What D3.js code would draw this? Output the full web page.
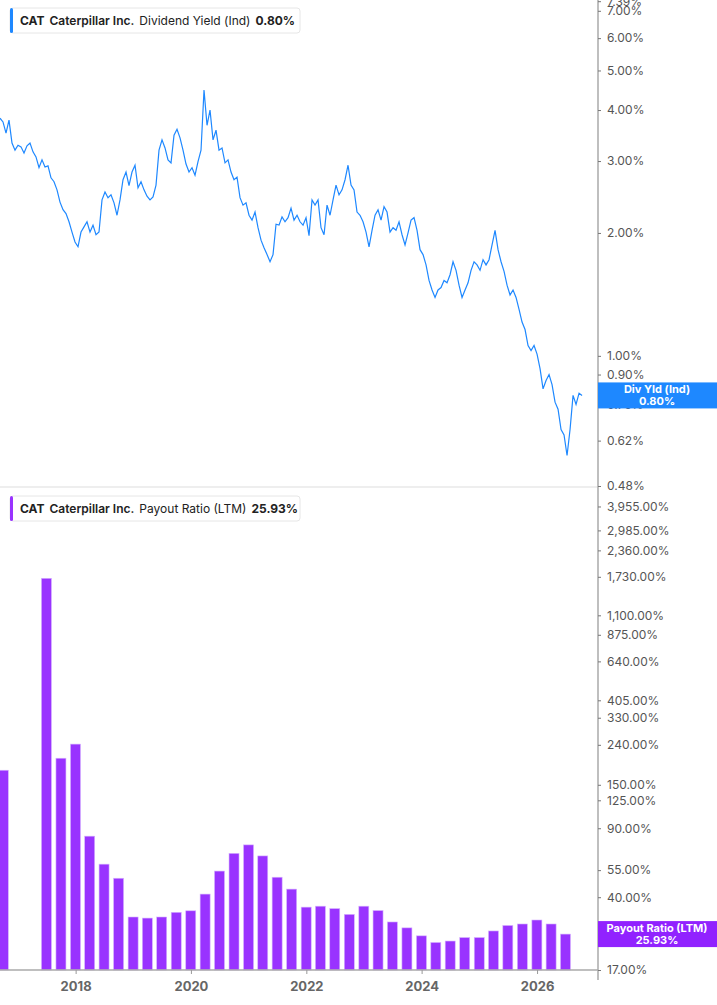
<!DOCTYPE html>
<html><head><meta charset="utf-8">
<script src="https://cdn.jsdelivr.net/npm/d3@7"></script>
<style>body{margin:0;background:#fff;font-family:Inter,"Noto Sans",sans-serif}</style>
</head><body><svg id="c" width="717" height="1005"></svg>
<script>
// Dividend yield (%) sampled every 19 days from start date
const yieldStart = "2016-09-09";
const yieldStepDays = 19;
const yieldValues = [3.82,3.74,3.51,3.78,3.32,3.19,3.28,3.25,3.14,3.27,3.32,3.16,3.07,2.89,3.02,2.90,2.92,2.73,2.67,2.55,2.38,2.28,2.23,2.13,2.01,1.90,1.85,2.01,2.07,2.13,2.01,2.09,1.98,2.01,2.41,2.52,2.44,2.48,2.37,2.21,2.41,2.70,2.82,2.61,2.82,2.93,2.58,2.67,2.55,2.46,2.41,2.45,2.62,3.19,3.38,3.23,3.02,2.97,3.47,3.59,3.42,3.19,2.95,2.82,2.89,2.77,2.99,3.19,4.48,3.67,4.00,3.38,3.57,3.19,3.23,2.97,3.02,2.82,2.70,2.74,2.44,2.34,2.37,2.21,2.15,2.25,2.06,1.92,1.84,1.77,1.70,1.77,2.10,2.09,2.19,2.13,2.18,2.30,2.15,2.21,2.13,2.09,2.18,1.97,2.41,2.34,2.41,2.06,1.98,2.34,2.21,2.41,2.62,2.48,2.55,2.70,2.93,2.62,2.55,2.25,2.21,2.13,2.01,1.85,2.03,2.21,2.28,2.15,2.32,2.25,2.01,2.06,2.03,2.13,1.98,1.87,2.00,2.15,2.18,2.03,1.82,1.77,1.67,1.53,1.45,1.39,1.45,1.47,1.53,1.51,1.58,1.70,1.62,1.49,1.39,1.45,1.51,1.62,1.70,1.67,1.62,1.72,1.67,1.72,1.87,2.03,1.82,1.70,1.61,1.49,1.41,1.45,1.39,1.30,1.21,1.16,1.06,1.03,1.06,1.01,0.93,0.83,0.87,0.90,0.85,0.77,0.74,0.66,0.64,0.57,0.66,0.80,0.76,0.81,0.80];
// Payout ratio (%), quarter ends
const payoutDates = ["2016-09-30","2016-12-31","2017-03-31","2017-06-30","2017-09-30","2017-12-31","2018-03-31","2018-06-30","2018-09-30","2018-12-31","2019-03-31","2019-06-30","2019-09-30","2019-12-31","2020-03-31","2020-06-30","2020-09-30","2020-12-31","2021-03-31","2021-06-30","2021-09-30","2021-12-31","2022-03-31","2022-06-30","2022-09-30","2022-12-31","2023-03-31","2023-06-30","2023-09-30","2023-12-31","2024-03-31","2024-06-30","2024-09-30","2024-12-31","2025-03-31","2025-06-30","2025-09-30","2025-12-31","2026-03-31","2026-06-30"];
const payoutValues = [178,null,null,1700,205,242,82,59,50,31.7,31.3,31.7,33.5,34.1,41.5,54.4,67,74,65,50.6,44,35.6,36,35,32.7,36,34.2,29.9,27.9,25.4,23.5,23.9,24.9,24.9,26.9,28.7,29.2,30.6,29.2,25.93];
const yieldTicks = [7.39,7,6,5,4,3,2,1,0.9,0.76,0.62,0.48];
const payoutTicks = [3955,2985,2360,1730,1100,875,640,405,330,240,150,125,90,55,40,25,17];
const yearTicks = [2018,2020,2022,2024,2026];

const svg = d3.select("#c");
const pt = d3.timeParse("%Y-%m-%d");
const t0 = pt(yieldStart);
const W = 598;
const x = d3.scaleTime().domain([t0, d3.timeDay.offset(t0, 3787)]).range([0, W]);
const yTop = d3.scaleLog().domain([0.48, 7.44]).range([486, 0]);
const yBot = d3.scaleLog().domain([17, 4800]).range([970, 490]);
const BLUE = "#1e88ff", PURP = "#9933ff";

const yd = yieldValues.map((v,i)=>({d:d3.timeDay.offset(t0,i*yieldStepDays),v}));
svg.append("path").datum(yd).attr("fill","none").attr("stroke",BLUE).attr("stroke-width",1.2)
  .attr("d", d3.line().x(d=>x(d.d)).y(d=>yTop(d.v)));

const bd = payoutDates.map((d,i)=>({d:pt(d),v:payoutValues[i]})).filter(d=>d.v!=null);
svg.append("g").selectAll("rect").data(bd).join("rect")
  .attr("x", d=>x(d.d)-5).attr("width",10)
  .attr("y", d=>yBot(d.v)).attr("height", d=>970-yBot(d.v))
  .attr("fill",PURP).attr("stroke","#d6b3ff").attr("stroke-width",0.6);

svg.append("line").attr("x1",0).attr("x2",W).attr("y1",487).attr("y2",487).attr("stroke","#ddd");
svg.append("line").attr("x1",0).attr("x2",W).attr("y1",970).attr("y2",970).attr("stroke","#aaa").attr("stroke-width",1.5);
svg.append("line").attr("x1",W).attr("x2",W).attr("y1",0).attr("y2",980).attr("stroke","#aaa").attr("stroke-width",1.5);

function rightAxis(scale, ticks, fmt){
  const g = svg.append("g").attr("transform",`translate(${W},0)`)
    .call(d3.axisRight(scale).tickValues(ticks).tickSize(3).tickPadding(6).tickFormat(fmt));
  g.select(".domain").remove();
  g.selectAll("line").attr("stroke","#777");
  g.selectAll("text").attr("fill","#555").style("font-size","12px").style("font-family","Inter,sans-serif");
}
rightAxis(yTop, yieldTicks, d=>d.toFixed(2)+"%");
rightAxis(yBot, payoutTicks, d=>d3.format(",.2f")(d)+"%");

const xa = svg.append("g").attr("transform","translate(0,970)")
  .call(d3.axisBottom(x).tickValues(yearTicks.map(y=>new Date(y,0,1))).tickSize(4).tickPadding(8).tickFormat(d3.timeFormat("%Y")));
xa.select(".domain").remove();
xa.selectAll("line").attr("stroke","#999");
xa.selectAll("text").attr("fill","#666").style("font-size","13px").style("font-weight","700").style("font-family","Inter,sans-serif");

function legend(y, color, parts, w){
  const g = svg.append("g").attr("transform",`translate(10,${y})`);
  g.append("rect").attr("width",w).attr("height",25).attr("rx",3).attr("fill","#fff").attr("stroke","#e6e6e6");
  g.append("rect").attr("width",3).attr("height",25).attr("rx",1.5).attr("fill",color);
  const t = g.append("text").attr("x",10).attr("y",17).style("font-size","12px").attr("fill","#222");
  parts.forEach(p=>t.append("tspan").text(p[0]).style("font-weight",p[1]).attr("dx",p[2]));
}
legend(8, BLUE, [["CAT",700,0],["Caterpillar Inc.",600,5],["Dividend Yield (Ind)",400,5],["0.80%",700,5]], 290);
legend(496, PURP, [["CAT",700,0],["Caterpillar Inc.",600,5],["Payout Ratio (LTM)",400,5],["25.93%",700,5]], 290);

function tag(val, scale, color, l1, l2){
  const cy = scale(val);
  const g = svg.append("g");
  g.append("rect").attr("x",W).attr("y",cy-13).attr("width",717-W).attr("height",26).attr("fill",color);
  g.append("text").attr("x",657).attr("y",cy-2).attr("text-anchor","middle").attr("fill","#fff").style("font-size","11px").style("font-weight","700").text(l1);
  g.append("text").attr("x",657).attr("y",cy+10).attr("text-anchor","middle").attr("fill","#fff").style("font-size","11px").style("font-weight","700").text(l2);
}
tag(0.80, yTop, BLUE, "Div Yld (Ind)", "0.80%");
tag(25.93, yBot, "#9122ff", "Payout Ratio (LTM)", "25.93%");
</script></body></html>
